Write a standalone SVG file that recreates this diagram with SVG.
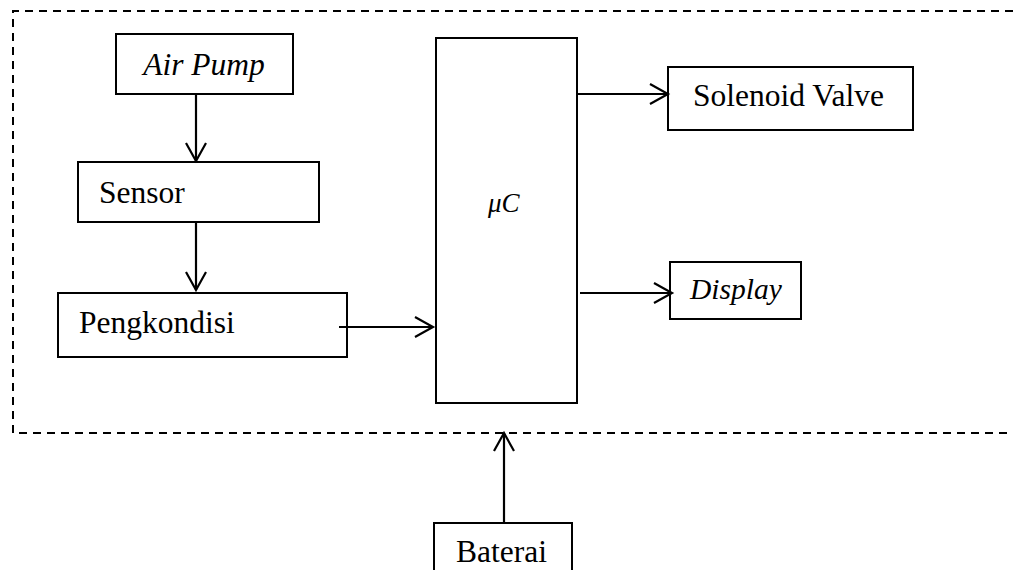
<svg xmlns="http://www.w3.org/2000/svg" width="1013" height="570" viewBox="0 0 1013 570">
<style>
.box{fill:#fff;stroke:#000;stroke-width:2}
.t{font-family:"Liberation Serif","Times New Roman",serif;font-size:31.5px;fill:#000}
.i{font-style:italic}
.c{fill:none;stroke:#000;stroke-width:2.2}
.dash{fill:none;stroke:#000;stroke-width:2;stroke-dasharray:8 6}
</style>
<defs>
<marker id="ah" markerUnits="userSpaceOnUse" markerWidth="24" markerHeight="26" refX="19" refY="11" orient="auto">
<path d="M1,1 L19,11 L1,21" fill="none" stroke="#000" stroke-width="2.2"/>
</marker>
</defs>
<path class="dash" d="M1013,11 H13 V433 H1013"/>
<g id="airpump"><rect class="box" x="116" y="34" width="177" height="60"/><text class="t i" x="204" y="75" text-anchor="middle">Air Pump</text></g>
<g id="sensor"><rect class="box" x="78" y="162" width="241" height="60"/><text class="t" x="99" y="203">Sensor</text></g>
<g id="pengkondisi"><rect class="box" x="58" y="293" width="289" height="64"/><text class="t" x="79" y="333">Pengkondisi</text></g>
<g id="uc"><rect class="box" x="436" y="38" width="141" height="365"/><text class="t i" x="488" y="212" style="font-size:27px">μC</text></g>
<g id="solenoid"><rect class="box" x="668" y="67" width="245" height="63"/><text class="t" x="693" y="106">Solenoid Valve</text></g>
<g id="display"><rect class="box" x="670" y="262" width="131" height="57"/><text class="t i" x="690" y="299" style="font-size:29.5px">Display</text></g>
<g id="baterai"><rect class="box" x="434" y="523" width="138" height="60"/><text class="t" x="456" y="562">Baterai</text></g>
<g id="connectors">
<line class="c" x1="196" y1="94" x2="196" y2="161" marker-end="url(#ah)"/>
<line class="c" x1="196" y1="222" x2="196" y2="290" marker-end="url(#ah)"/>
<line class="c" x1="339" y1="327" x2="433" y2="327" marker-end="url(#ah)"/>
<line class="c" x1="577" y1="94" x2="668" y2="94" marker-end="url(#ah)"/>
<line class="c" x1="580" y1="293" x2="672" y2="293" marker-end="url(#ah)"/>
<line class="c" x1="504" y1="523" x2="504" y2="433" marker-end="url(#ah)"/>
</g>
</svg>
